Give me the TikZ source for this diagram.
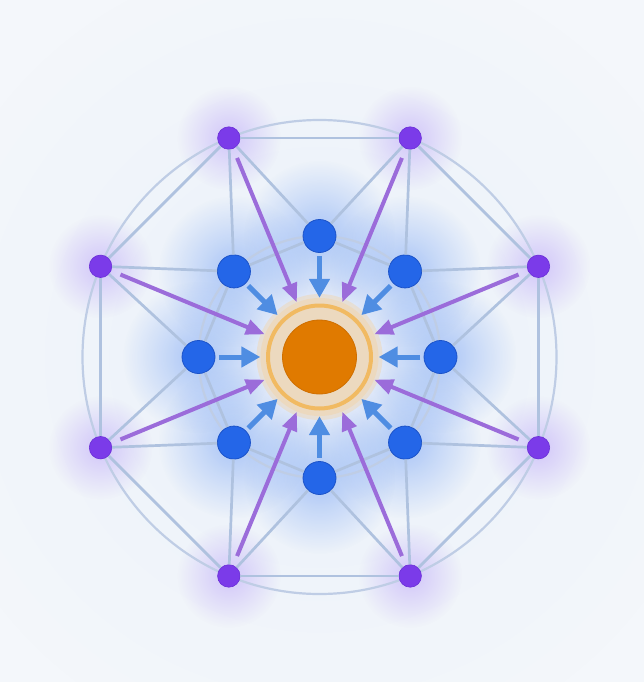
\documentclass[tikz,border=0pt]{standalone}
\usetikzlibrary{calc,arrows.meta,fadings}
\definecolor{bgc}{HTML}{F4F7FB}
\definecolor{linec}{HTML}{AFC2DF}
\definecolor{ringc}{HTML}{BFCDE5}
\definecolor{bluen}{HTML}{2466E8}
\definecolor{bluenb}{HTML}{1B52C8}
\definecolor{purpn}{HTML}{7B3BE9}
\definecolor{purpnb}{HTML}{6A2FD6}
\definecolor{parrc}{HTML}{9B6CDA}
\definecolor{barrc}{HTML}{4F8DE2}
\definecolor{haloc}{HTML}{ECD9BF}
\definecolor{orringc}{HTML}{F1BA62}
\definecolor{orcore}{HTML}{E07A00}
\definecolor{orcoreb}{HTML}{CF6F00}
\definecolor{glowb}{HTML}{3B7BF0}
\definecolor{glowp}{HTML}{8B5CF6}
\tikzfading[name=glowfade, inner color=transparent!0, outer color=transparent!100]
\tikzset{
  edgeline/.style={draw=linec, line width=2.7pt},
  circline/.style={draw=ringc, line width=2.2pt},
  bluenode/.style={circle, fill=bluen, draw=bluenb, line width=0.8pt, minimum size=33pt, inner sep=0pt},
  purpnode/.style={circle, fill=purpn, draw=purpnb, line width=0.6pt, minimum size=22.5pt, inner sep=0pt},
  parrow/.style={draw=parrc, line width=4pt, shorten <=10pt, -{Triangle[length=19pt,width=15pt]}},
  barrow/.style={draw=barrc, line width=5pt, shorten <=3.5pt, -{Triangle[length=19pt,width=20pt]}},
  halonode/.style={circle, fill=haloc, minimum size=118pt, inner sep=0pt},
  glow/.style={fill=#1, path fading=glowfade},
}
\begin{document}
\begin{tikzpicture}[x=1pt,y=-1pt]
\useasboundingbox (0,0) rectangle (644,682);
\fill[bgc] (0,0) rectangle (644,682);
\coordinate (C) at (319.5,357);
% soft haze
\fill[glow=glowb, fill opacity=0.05] (C) circle (420);
% glows
\foreach \k in {0,...,7}{
  \fill[glow=glowb, fill opacity=0.38] ($(C)+(45*\k:121)$) circle (76);
  \fill[glow=glowp, fill opacity=0.30] ($(C)+(22.5+45*\k:237)$) circle (52);
}
% circles
\draw[circline] (C) circle (237);
\draw[circline] (C) circle (121);
% nodes
\foreach \k in {0,...,7}{
  \node[bluenode] (b\k) at ($(C)+(45*\k:121)$) {};
  \node[purpnode] (p\k) at ($(C)+(22.5+45*\k:237)$) {};
}
\fill[haloc, opacity=0.6] (C) circle (63);
\node[halonode] (halo) at (C) {};
% edges
\foreach \k [evaluate=\k as \n using {int(mod(\k+1,8))}] in {0,...,7}{
  \draw[edgeline] (p\k) -- (p\n);
  \draw[edgeline] (b\k) -- (b\n);
  \draw[edgeline] (p\k) -- (b\k);
  \draw[edgeline] (p\k) -- (b\n);
}
% center
\draw[orringc, line width=4pt] (C) circle (51.5);
\fill[orcore, draw=orcoreb, line width=0.8pt] (C) circle (37);
% arrows
\foreach \k in {0,...,7}{
  \draw[parrow] (p\k) -- (halo);
  \draw[barrow] (b\k) -- (halo);
}
\end{tikzpicture}
\end{document}
